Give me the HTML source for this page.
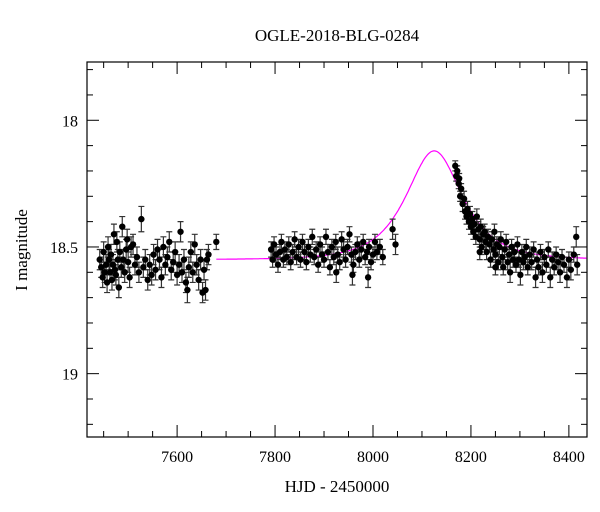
<!DOCTYPE html>
<html><head><meta charset="utf-8"><style>
html,body{margin:0;padding:0;background:#fff;width:600px;height:512px;overflow:hidden}
svg text{font-family:"Liberation Serif",serif;fill:#000}
</style></head><body>
<svg id="chart" width="600" height="512" viewBox="0 0 600 512" xmlns="http://www.w3.org/2000/svg">
<text x="337" y="41" font-size="17" text-anchor="middle">OGLE-2018-BLG-0284</text>
<text x="337" y="492" font-size="17" text-anchor="middle">HJD - 2450000</text>
<text transform="translate(27,250) rotate(-90)" font-size="17" text-anchor="middle">I magnitude</text>
<g id="plot"></g>
</svg>
<script>
const xTicks=[7600,7800,8000,8200,8400];
const yTicks=[18,18.5,19];
const yTickLabels=["18","18.5","19"];
const modelT0=[8125];
const modelU0=[0.84];
const modelTE=[76];
const modelBase=[18.55];
const obs=[
[7442,18.55,0.04],[7445,18.58,0.04],[7448,18.62,0.04],[7450,18.52,0.04],[7452,18.60,0.04],[7455,18.57,0.04],[7457,18.64,0.04],[7459,18.50,0.04],[7461,18.55,0.04],[7463,18.60,0.04],[7465,18.53,0.04],[7467,18.63,0.04],[7469,18.57,0.04],[7471,18.45,0.04],[7473,18.59,0.04],[7475,18.61,0.04],[7477,18.48,0.04],[7479,18.55,0.04],[7481,18.66,0.04],[7483,18.52,0.04],[7486,18.58,0.04],[7488,18.42,0.04],[7490,18.55,0.04],[7493,18.60,0.04],[7496,18.51,0.04],[7498,18.47,0.04],[7500,18.56,0.04],[7503,18.62,0.04],[7506,18.50,0.04],[7510,18.49,0.04],[7514,18.57,0.04],[7518,18.54,0.04],[7522,18.60,0.04],[7527,18.39,0.05],[7531,18.58,0.04],[7535,18.55,0.04],[7540,18.63,0.04],[7544,18.57,0.04],[7548,18.61,0.04],[7552,18.53,0.04],[7556,18.59,0.04],[7560,18.51,0.04],[7564,18.55,0.04],[7568,18.62,0.04],[7572,18.50,0.04],[7576,18.57,0.04],[7580,18.54,0.04],[7584,18.48,0.04],[7588,18.59,0.04],[7592,18.56,0.04],[7596,18.52,0.04],[7600,18.61,0.04],[7604,18.57,0.04],[7607,18.44,0.04],[7610,18.60,0.04],[7614,18.55,0.04],[7618,18.64,0.04],[7621,18.67,0.05],[7624,18.58,0.04],[7628,18.52,0.04],[7632,18.60,0.04],[7636,18.49,0.04],[7640,18.57,0.04],[7644,18.63,0.04],[7648,18.55,0.04],[7652,18.68,0.04],[7655,18.59,0.04],[7658,18.67,0.04],[7661,18.55,0.04],[7664,18.53,0.04],[7680,18.48,0.03],
[7792,18.51,0.03],[7795,18.55,0.03],[7798,18.49,0.03],[7802,18.53,0.03],[7806,18.57,0.03],[7810,18.52,0.03],[7813,18.48,0.03],[7817,18.55,0.03],[7820,18.51,0.03],[7824,18.54,0.03],[7828,18.49,0.03],[7832,18.56,0.03],[7836,18.52,0.03],[7840,18.47,0.03],[7844,18.54,0.03],[7848,18.50,0.03],[7852,18.55,0.03],[7856,18.48,0.03],[7860,18.52,0.03],[7864,18.56,0.03],[7868,18.50,0.03],[7872,18.53,0.03],[7876,18.46,0.03],[7880,18.54,0.03],[7884,18.51,0.03],[7888,18.57,0.03],[7892,18.49,0.03],[7896,18.53,0.03],[7900,18.55,0.03],[7904,18.46,0.03],[7908,18.52,0.03],[7912,18.58,0.03],[7916,18.50,0.03],[7920,18.54,0.03],[7924,18.48,0.03],[7925,18.60,0.04],[7928,18.53,0.03],[7932,18.56,0.03],[7936,18.47,0.03],[7940,18.51,0.03],[7944,18.55,0.03],[7948,18.50,0.03],[7952,18.45,0.03],[7956,18.53,0.03],[7958,18.61,0.04],[7960,18.57,0.03],[7964,18.52,0.03],[7968,18.49,0.03],[7972,18.55,0.03],[7976,18.51,0.03],[7980,18.48,0.03],[7984,18.54,0.03],[7988,18.52,0.03],[7990,18.62,0.04],[7992,18.50,0.03],[7996,18.56,0.03],[8000,18.53,0.03],[8004,18.48,0.03],[8008,18.52,0.03],[8014,18.50,0.03],[8020,18.54,0.03],[8040,18.43,0.04],[8046,18.49,0.04],
[8168,18.18,0.02],[8170,18.22,0.02],[8172,18.20,0.02],[8175,18.25,0.02],[8176,18.23,0.02],[8178,18.30,0.02],[8180,18.27,0.02],[8183,18.33,0.03],[8186,18.31,0.03],[8188,18.36,0.03],[8191,18.38,0.03],[8193,18.35,0.03],[8196,18.40,0.03],[8198,18.37,0.03],[8200,18.42,0.03],[8203,18.39,0.03],[8205,18.44,0.03],[8207,18.41,0.03],[8210,18.46,0.03],[8212,18.38,0.03],[8215,18.43,0.03],[8218,18.47,0.03],[8218,18.52,0.03],[8220,18.42,0.03],[8222,18.50,0.03],[8225,18.45,0.03],[8228,18.44,0.03],[8230,18.48,0.03],[8232,18.52,0.03],[8235,18.46,0.03],[8238,18.49,0.03],[8240,18.55,0.03],[8243,18.47,0.03],[8246,18.51,0.03],[8248,18.44,0.03],[8250,18.53,0.03],[8250,18.58,0.03],[8253,18.49,0.03],[8256,18.56,0.03],[8258,18.50,0.03],[8261,18.47,0.03],[8264,18.54,0.03],[8266,18.58,0.03],[8269,18.51,0.03],[8272,18.48,0.03],[8275,18.56,0.03],[8278,18.53,0.03],[8280,18.60,0.04],[8283,18.50,0.03],[8286,18.55,0.03],[8289,18.52,0.03],[8292,18.57,0.03],[8295,18.49,0.03],[8298,18.55,0.03],[8301,18.61,0.04],[8304,18.52,0.03],[8307,18.56,0.03],[8310,18.54,0.03],[8313,18.50,0.03],[8316,18.58,0.03],[8320,18.53,0.03],[8324,18.56,0.03],[8328,18.51,0.03],[8332,18.62,0.04],[8335,18.55,0.03],[8338,18.58,0.03],[8342,18.52,0.03],[8346,18.60,0.04],[8350,18.54,0.03],[8354,18.57,0.03],[8358,18.51,0.03],[8362,18.62,0.04],[8366,18.55,0.03],[8370,18.58,0.03],[8374,18.53,0.03],[8378,18.56,0.03],[8382,18.60,0.04],[8386,18.54,0.03],[8390,18.57,0.03],[8396,18.62,0.04],[8400,18.55,0.03],[8404,18.59,0.04],[8410,18.53,0.03],[8415,18.46,0.04],[8417,18.57,0.04]
];
const L=87,R=587,T=62,B=437,X0=7416,X1=8437,Y0=17.77,Y1=19.25;
const xs=t=>L+(t-X0)/(X1-X0)*(R-L);
const ys=m=>T+(m-Y0)/(Y1-Y0)*(B-T);
const NS="http://www.w3.org/2000/svg";
const g=document.getElementById('plot');
function mk(tag,attrs){const e=document.createElementNS(NS,tag);for(const k in attrs)e.setAttribute(k,attrs[k]);g.appendChild(e);return e;}
const fr=mk('rect',{x:L,y:T,width:R-L,height:B-T,fill:'none',stroke:'#000','stroke-width':1.2});


for(let t=7450;t<=8430;t+=50){
  const x=xs(t);const major=(t%200===0);const len=major?12:6;
  const a=mk('line',{x1:x,y1:B,x2:x,y2:B-len,stroke:'#000','stroke-width':1});
  
  
  const b=mk('line',{x1:x,y1:T,x2:x,y2:T+len,stroke:'#000','stroke-width':1});
  
  
}
xTicks.forEach(t=>{
  const tx=mk('text',{x:xs(t),y:B+25,'font-size':16,'text-anchor':'middle'});
  tx.textContent=String(t);
  
  
});
for(let i=18;i<=192;i++){
  const m=i/10; if(m<Y0||m>Y1)continue;
  const y=ys(m);const major=(i%5===0);const len=major?12:6;
  const a=mk('line',{x1:L,y1:y,x2:L+len,y2:y,stroke:'#000','stroke-width':1});
  
  
  const b=mk('line',{x1:R,y1:y,x2:R-len,y2:y,stroke:'#000','stroke-width':1});
  
  
}
yTicks.forEach((m,i)=>{
  const tx=mk('text',{x:L-9,y:ys(m)+6,'font-size':16,'text-anchor':'end'});
  tx.textContent=yTickLabels[i];
  
  
});
function modelMag(t){const u=Math.sqrt(modelU0[0]**2+((t-modelT0[0])/modelTE[0])**2);const A=(u*u+2)/(u*Math.sqrt(u*u+4));return modelBase[0]-2.5*Math.log10(A);}
let d='';
for(let t=7680;t<=X1;t+=2){d+=(d?'L':'M')+xs(t).toFixed(1)+','+ys(modelMag(t)).toFixed(1);}
const mp=mk('path',{d:d,fill:'none',stroke:'#ff00ff','stroke-width':1.2});


obs.forEach(p=>{
  const x=xs(p[0]),y1=ys(p[1]-p[2]),y2=ys(p[1]+p[2]);
  const e=mk('path',{d:`M${x},${y1}L${x},${y2}M${x-3},${y1}L${x+3},${y1}M${x-3},${y2}L${x+3},${y2}`,stroke:'#333','stroke-width':1.2,fill:'none'});
  
  
});
obs.forEach(p=>{
  const c=mk('circle',{cx:xs(p[0]),cy:ys(p[1]),r:3.2,fill:'#000'});
  
  
});
</script>
</body></html>
